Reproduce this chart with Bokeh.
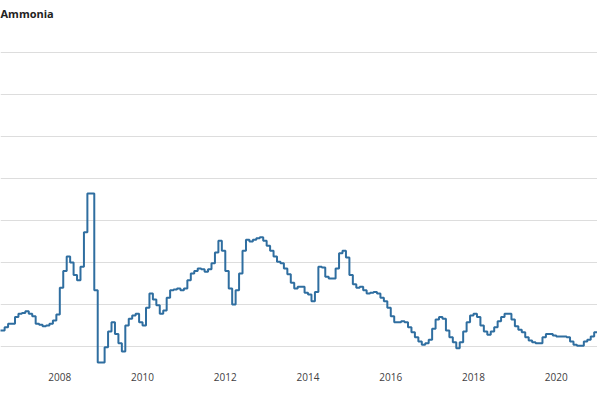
import pandas as pd
from bokeh.plotting import figure
from bokeh.models import Range1d, FixedTicker
from bokeh.embed import file_html
from bokeh.resources import INLINE

title_text = "Ammonia"
start_month = "2006-07-01"

v2006 = [69, 69, 73, 77, 77, 85]
v2007 = [89, 90, 92, 89, 86, 77, 76, 74, 75, 77, 81, 88]
v2008 = [120, 140, 157, 150, 135, 129, 145, 186, 232, 232, 117, 31]
v2009 = [31, 49, 68, 79, 65, 54, 44, 75, 83, 87, 89, 79]
v2010 = [75, 96, 113, 106, 99, 89, 93, 108, 117, 118, 119, 117]
v2011 = [119, 129, 137, 140, 143, 142, 139, 142, 149, 162, 176, 164]
v2012 = [140, 119, 100, 117, 137, 164, 177, 175, 177, 179, 180, 176]
v2013 = [170, 164, 157, 151, 149, 143, 136, 126, 119, 121, 121, 114]
v2014 = [112, 104, 115, 145, 144, 133, 131, 131, 143, 161, 164, 156]
v2015 = [135, 124, 120, 121, 117, 113, 114, 115, 113, 108, 104, 96]
v2016 = [86, 79, 79, 80, 79, 73, 67, 61, 56, 52, 54, 58]
v2017 = [71, 82, 85, 83, 69, 61, 55, 48, 55, 68, 79, 87]
v2018 = [89, 85, 75, 68, 64, 68, 73, 80, 85, 89, 89, 82]
v2019 = [74, 70, 67, 61, 57, 55, 54, 54, 61, 65, 65, 63]
v2020 = [62, 62, 62, 61, 56, 52, 51, 51, 56, 58, 62, 67]
v2021 = [68]

year_ticks = [2006, 2008, 2010, 2012, 2014, 2016, 2018, 2020]
y_grid_values = [50, 100, 150, 200, 250, 300, 350, 400]

values = (v2006 + v2007 + v2008 + v2009 + v2010 + v2011 + v2012 + v2013
          + v2014 + v2015 + v2016 + v2017 + v2018 + v2019 + v2020 + v2021)
months = pd.date_range(start_month, periods=len(values), freq="MS")
x = [d.year + (d.month - 1) / 12.0 for d in months]

p = figure(width=597, height=398, output_backend="svg", toolbar_location=None,
           x_range=Range1d(2006.5666, 2020.997), y_range=Range1d(26.19, 433.33),
           min_border_left=0, min_border_right=0, min_border_top=0,
           min_border_bottom=32)
p.background_fill_color = "white"
p.border_fill_color = "white"
p.outline_line_color = None

p.title.text = title_text
p.title.text_font = "Open Sans"
p.title.text_font_style = "bold"
p.title.text_font_size = "11px"
p.title.text_color = "#222222"
p.title.offset = 0
p.title.standoff = 7

p.yaxis.visible = False
p.ygrid[0].ticker = FixedTicker(ticks=y_grid_values)
p.ygrid.grid_line_color = "#dddddd"
p.ygrid.grid_line_width = 1
p.xgrid.visible = False

p.xaxis.ticker = FixedTicker(ticks=year_ticks)
p.xaxis.axis_line_color = None
p.xaxis.major_tick_line_color = None
p.xaxis.minor_tick_line_color = None
p.xaxis.major_tick_out = 0
p.xaxis.major_label_standoff = 6
p.xaxis.major_label_text_font = "Open Sans"
p.xaxis.major_label_text_font_size = "10px"
p.xaxis.major_label_text_color = "#414042"

p.step(x, values, mode="after", line_width=2, line_color="#2f6ea0")

open("out.html", "w").write(file_html(p, INLINE))
